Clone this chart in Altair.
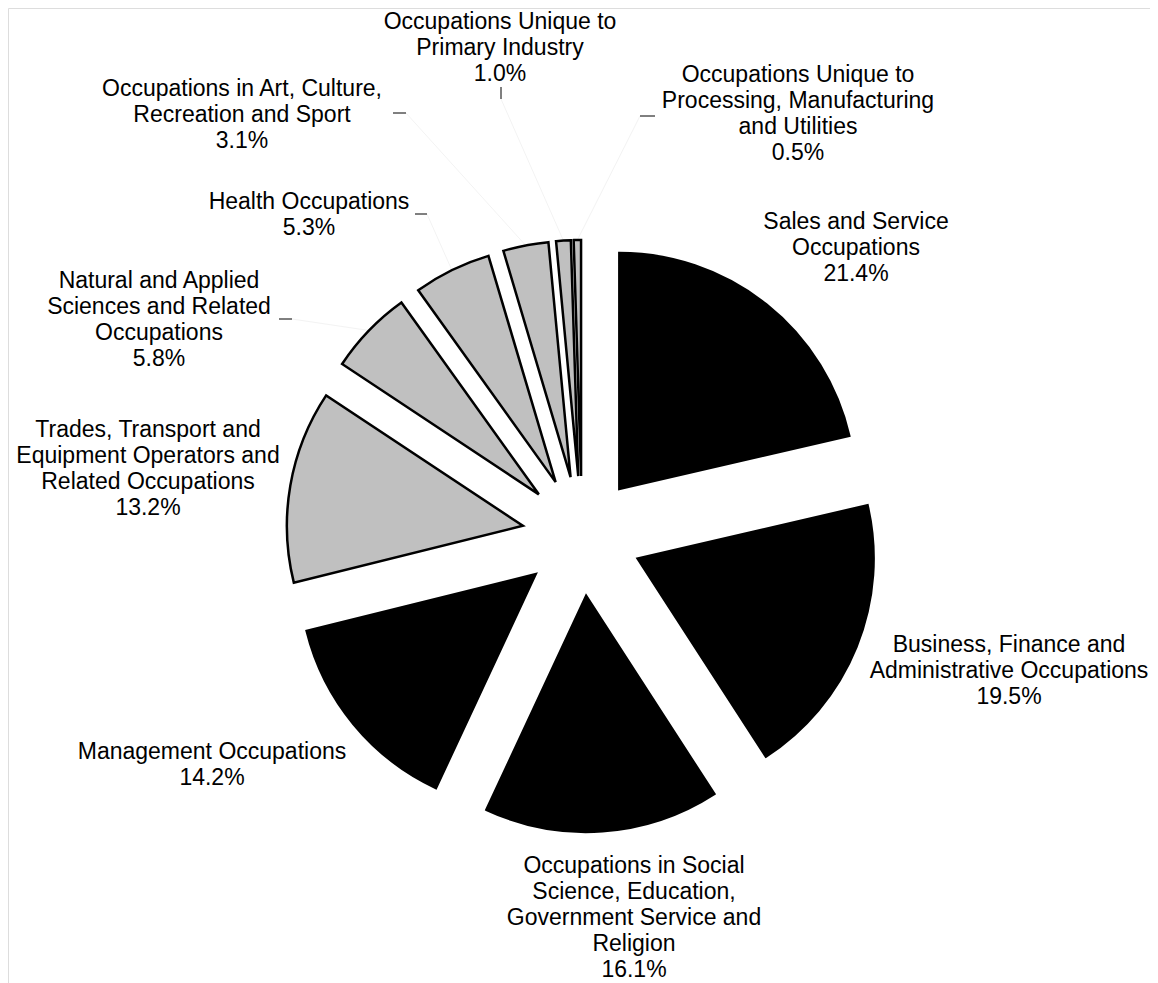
import altair as alt
import pandas as pd

# ---------------- data ----------------
categories = [
    "Sales and Service\nOccupations",
    "Business, Finance and\nAdministrative Occupations",
    "Occupations in Social\nScience, Education,\nGovernment Service and\nReligion",
    "Management  Occupations",
    "Trades, Transport and\nEquipment Operators and\nRelated Occupations",
    "Natural and Applied\nSciences and Related\nOccupations",
    "Health Occupations",
    "Occupations in Art, Culture,\nRecreation and Sport",
    "Occupations Unique to\nPrimary Industry",
    "Occupations Unique to\nProcessing, Manufacturing\nand Utilities",
]
values = [21.4, 19.5, 16.1, 14.2, 13.2, 5.8, 5.3, 3.1, 1.0, 0.5]

# ---------------- styles / layout ----------------
SLICE_FILLS = ["#000000"] * 4 + ["#c0c0c0"] * 6
W, H = 1142, 975
OFF = 8                      # page margin
CX, CY = 582 - OFF, 536 - OFF
R = 236
EXPLODE = 60
FONT = "Liberation Sans"
FS = 23
LH = 26

# label anchors (page px: centre x, first baseline y)
LABEL_X = [856, 1009, 634, 212, 148, 159, 309, 242, 500, 798]
LABEL_Y = [229, 652, 873, 759, 437, 288, 209, 96, 29, 82]
# short leader ticks near labels (page px); None where absent
TICKS = [None, None, None, None, None,
         (279, 319, 292, 319),
         (415, 214, 427, 214),
         (393, 113, 406, 113),
         (501, 87, 501, 99),
         (655, 116, 640, 116)]

rows = []
for i, (c, v) in enumerate(zip(categories, values)):
    t = TICKS[i]
    rows.append(dict(
        order=i, category=c, value=v,
        lx=LABEL_X[i] - OFF, ly=LABEL_Y[i] - OFF,
        tx1=(t[0] - OFF) if t else None, ty1=(t[1] - OFF) if t else None,
        tx2=(t[2] - OFF) if t else None, ty2=(t[3] - OFF) if t else None,
    ))
df = pd.DataFrame(rows)

base = alt.Chart(df).transform_window(
    cum="sum(value)", sort=[alt.SortField("order")]
).transform_joinaggregate(
    total="sum(value)"
).transform_calculate(
    a0="2*PI*(datum.cum - datum.value)/datum.total",
    a1="2*PI*datum.cum/datum.total",
).transform_calculate(
    mid="(datum.a0 + datum.a1)/2",
).transform_calculate(
    cx=f"{CX} + {EXPLODE}*sin(datum.mid)",
    cy=f"{CY} - {EXPLODE}*cos(datum.mid)",
).transform_calculate(
    ox=f"datum.cx + {R}*sin(datum.mid)",
    oy=f"datum.cy - {R}*cos(datum.mid)",
    label="datum.category + '\\n' + format(datum.value, '.1f') + '%'",
)

arcs = base.mark_arc(outerRadius=R, stroke="black", strokeWidth=2.5,
                     strokeJoin="miter").encode(
    theta=alt.Theta("a0:Q", scale=None, stack=None),
    theta2="a1:Q",
    x=alt.X("cx:Q", scale=None, axis=None),
    y=alt.Y("cy:Q", scale=None, axis=None),
    fill=alt.Fill("category:N", scale=alt.Scale(domain=categories, range=SLICE_FILLS), legend=None),
    order=alt.Order("order:Q"),
)

leaders = base.transform_filter("isValid(datum.tx1)").mark_rule(
    color="#f3f3f3", strokeWidth=1
).encode(
    x=alt.X("tx2:Q", scale=None, axis=None),
    y=alt.Y("ty2:Q", scale=None, axis=None),
    x2="ox:Q",
    y2="oy:Q",
)

ticks = base.transform_filter("isValid(datum.tx1)").mark_rule(
    color="#000000", strokeWidth=1
).encode(
    x=alt.X("tx1:Q", scale=None, axis=None),
    y=alt.Y("ty1:Q", scale=None, axis=None),
    x2="tx2:Q",
    y2="ty2:Q",
)

labels = base.mark_text(
    font=FONT, fontSize=FS, lineHeight=LH, align="center", baseline="alphabetic",
    lineBreak="\n", color="black"
).encode(
    x=alt.X("lx:Q", scale=None, axis=None),
    y=alt.Y("ly:Q", scale=None, axis=None),
    text="label:N",
)

chart = alt.layer(leaders, arcs, ticks, labels).properties(
    width=W, height=H, autosize="none", padding=0
).configure_view(stroke="transparent", strokeWidth=0).configure(background="white")

chart.save("out.html", embed_options={"renderer": "svg", "actions": False})
